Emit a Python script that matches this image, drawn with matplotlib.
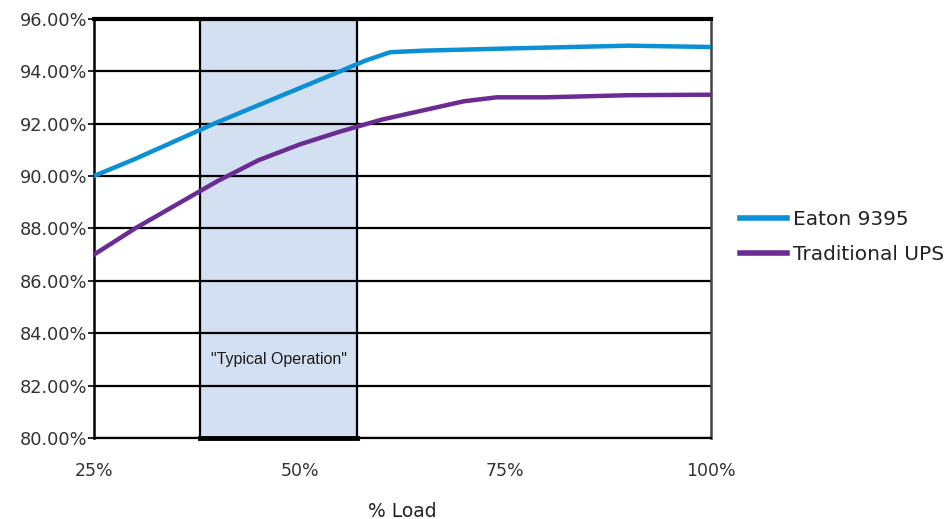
import matplotlib
matplotlib.use("Agg")
import matplotlib.pyplot as plt
from matplotlib.ticker import FuncFormatter

# % load vs efficiency
eaton_load = [25, 30, 35, 40, 45, 50, 55, 58, 61, 65, 75, 90, 100]
eaton_eff = [90.0, 90.65, 91.35, 92.05, 92.7, 93.35, 94.0, 94.4, 94.72, 94.78, 94.86, 94.97, 94.92]

trad_load = [25, 30, 35, 40, 45, 50, 55, 60, 65, 70, 74, 80, 90, 100]
trad_eff = [87.0, 88.0, 88.9, 89.8, 90.6, 91.2, 91.7, 92.15, 92.5, 92.85, 93.0, 93.0, 93.08, 93.1]

typical_span = [37.9, 57.0]
x_ticks = [25, 50, 75, 100]
y_ticks = [80, 82, 84, 86, 88, 90, 92, 94, 96]

plt.rcParams["font.family"] = ["DejaVu Sans"]

fig = plt.figure(figsize=(9.5, 5.19), dpi=100)
ax = fig.add_axes([0.099, 0.156, 0.649, 0.808])

# y grid
for y in y_ticks:
    ax.axhline(y, color="black", lw=1.6, zorder=1)

# "typical operation" band
ax.axvspan(typical_span[0], typical_span[1], color="#d3e0f2", zorder=0.5)
for xv in typical_span:
    ax.axvline(xv, color="black", lw=1.6, zorder=1)
ax.plot(typical_span, [80, 80], color="black", lw=3.5, zorder=2, clip_on=False)
ax.text(sum(typical_span) / 2, 83.0, '"Typical Operation"', ha="center", va="center",
        fontsize=11.5, color="#1a1a1a",
        family=["Liberation Sans", "DejaVu Sans"], zorder=3)

ax.plot(eaton_load, eaton_eff, color="#0b8fd5", lw=3.2, label="Eaton 9395", zorder=4)
ax.plot(trad_load, trad_eff, color="#6a2b93", lw=3.2, label="Traditional UPS", zorder=4)

ax.set_xlim(25, 100)
ax.set_ylim(80, 96)
ax.set_xticks(x_ticks)
ax.set_xticklabels([f"{x}%" for x in x_ticks])
ax.set_yticks(y_ticks)
ax.yaxis.set_major_formatter(FuncFormatter(lambda v, p: f"{v:.2f}%"))
ax.tick_params(axis="x", length=0, pad=17, labelsize=12.5)
ax.tick_params(axis="y", length=4, width=1.2, pad=1, labelsize=12.8)
for lab in ax.get_xticklabels() + ax.get_yticklabels():
    lab.set_color("#333333")

ax.spines["top"].set_linewidth(3)
ax.spines["left"].set_linewidth(1.8)
ax.spines["right"].set_linewidth(1.8)
ax.spines["right"].set_color("#444444")
ax.spines["bottom"].set_linewidth(1.6)

ax.set_xlabel("% Load", fontsize=13.5, labelpad=16, color="#222222")

leg = ax.legend(loc="center left", bbox_to_anchor=(1.035, 0.48), frameon=False,
                fontsize=14.5, handlelength=2.3, handletextpad=0.3, labelspacing=0.8,
                borderaxespad=0)
for line in leg.get_lines():
    line.set_linewidth(4)
for t in leg.get_texts():
    t.set_color("#222222")

fig.savefig("out.png", dpi=100)
